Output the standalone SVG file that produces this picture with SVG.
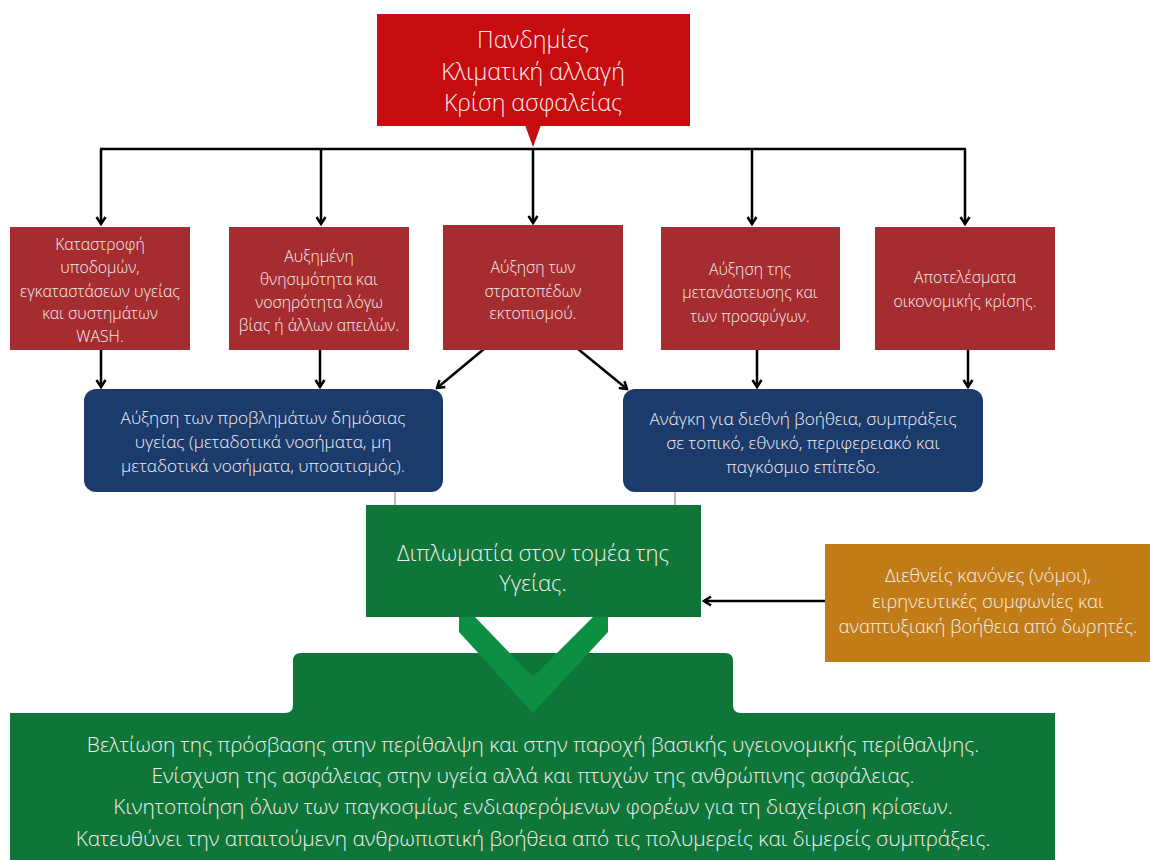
<svg xmlns="http://www.w3.org/2000/svg" width="1150" height="860" viewBox="0 0 1150 860">
<defs>
<marker id="ah" viewBox="0 0 12 12" refX="10" refY="6" markerWidth="12" markerHeight="12" markerUnits="userSpaceOnUse" orient="auto">
<polyline points="3,1.5 10,6 3,10.5" fill="none" stroke="#000" stroke-width="2.5"/>
</marker>
<style>
.t{font-family:"Open Sans","DejaVu Sans",sans-serif;fill:#f4eeee;text-anchor:middle;font-weight:300}
.s15{font-size:15.8px}
.s16{font-size:17.2px}
.s18{font-size:18.5px}
.s19{font-size:20.8px}
.s20{font-size:22px}
.s22{font-size:23.2px}
.red{fill:#a52d30}
.blue{fill:#1b3b6d}
.green{fill:#0f763a}
.conn{stroke:#000;stroke-width:2.5;fill:none}
.thin{stroke:#777;stroke-width:1;fill:none}
</style>
</defs>
<rect width="1150" height="860" fill="#fff"/>

<g id="connectors">
<line class="conn" x1="100" y1="149" x2="966" y2="149" stroke-width="3"/>
<line class="conn" x1="101" y1="149" x2="101" y2="224" marker-end="url(#ah)"/>
<line class="conn" x1="321" y1="149" x2="321" y2="224" marker-end="url(#ah)"/>
<line class="conn" x1="533" y1="149" x2="533" y2="223" marker-end="url(#ah)"/>
<line class="conn" x1="752" y1="149" x2="752" y2="224" marker-end="url(#ah)"/>
<line class="conn" x1="965" y1="149" x2="965" y2="224" marker-end="url(#ah)"/>
<line class="conn" x1="101" y1="350" x2="101" y2="387" marker-end="url(#ah)"/>
<line class="conn" x1="320" y1="350" x2="320" y2="387" marker-end="url(#ah)"/>
<line class="conn" x1="484" y1="349" x2="437" y2="388" marker-end="url(#ah)"/>
<line class="conn" x1="578" y1="349" x2="627" y2="389" marker-end="url(#ah)"/>
<line class="conn" x1="757" y1="350" x2="757" y2="387" marker-end="url(#ah)"/>
<line class="conn" x1="968" y1="350" x2="968" y2="387" marker-end="url(#ah)"/>
<line class="thin" x1="395" y1="492" x2="395" y2="505"/>
<line class="thin" x1="675" y1="492" x2="675" y2="505"/>
<line class="conn" x1="825" y1="601" x2="704" y2="601" marker-end="url(#ah)"/>
</g>

<g id="top">
<rect x="377" y="14" width="313" height="112" fill="#c60c0e"/>
<polygon points="525,125 541,125 533,147" fill="#c60c0e"/>
<text class="t s22" x="533" y="48">Πανδημίες</text>
<text class="t s22" x="533" y="80">Κλιματική αλλαγή</text>
<text class="t s22" x="533" y="111">Κρίση ασφαλείας</text>
</g>

<g id="n1">
<rect class="red" x="10" y="227" width="180" height="123"/>
<text class="t s15" x="100" y="250">Καταστροφή</text>
<text class="t s15" x="100" y="273">υποδομών,</text>
<text class="t s15" x="100" y="297">εγκαταστάσεων υγείας</text>
<text class="t s15" x="100" y="319">και συστημάτων</text>
<text class="t s15" x="100" y="342">WASH.</text>
</g>

<g id="n2">
<rect class="red" x="229" y="227" width="180" height="123"/>
<text class="t s15" x="319" y="262">Αυξημένη</text>
<text class="t s15" x="319" y="285">θνησιμότητα και</text>
<text class="t s15" x="319" y="308">νοσηρότητα λόγω</text>
<text class="t s15" x="319" y="331">βίας ή άλλων απειλών.</text>
</g>

<g id="n3">
<rect class="red" x="443" y="225" width="180" height="125"/>
<text class="t s15" x="533" y="273">Αύξηση των</text>
<text class="t s15" x="533" y="297">στρατοπέδων</text>
<text class="t s15" x="533" y="319">εκτοπισμού.</text>
</g>

<g id="n4">
<rect class="red" x="661" y="227" width="179" height="123"/>
<text class="t s15" x="750" y="275">Αύξηση της</text>
<text class="t s15" x="750" y="298">μετανάστευσης και</text>
<text class="t s15" x="750" y="322">των προσφύγων.</text>
</g>

<g id="n5">
<rect class="red" x="875" y="227" width="180" height="123"/>
<text class="t s15" x="965" y="283">Αποτελέσματα</text>
<text class="t s15" x="965" y="307">οικονομικής κρίσης.</text>
</g>

<g id="b1">
<rect class="blue" x="84" y="389" width="359" height="103" rx="12"/>
<text class="t s16" x="263" y="424">Αύξηση των προβλημάτων δημόσιας</text>
<text class="t s16" x="263" y="448">υγείας (μεταδοτικά νοσήματα, μη</text>
<text class="t s16" x="263" y="472">μεταδοτικά νοσήματα, υποσιτισμός).</text>
</g>

<g id="b2">
<rect class="blue" x="623" y="389" width="360" height="103" rx="12"/>
<text class="t s16" x="803" y="425">Ανάγκη για διεθνή βοήθεια, συμπράξεις</text>
<text class="t s16" x="803" y="449">σε τοπικό, εθνικό, περιφερειακό και</text>
<text class="t s16" x="803" y="473">παγκόσμιο επίπεδο.</text>
</g>

<g id="diplomacy">
<rect class="green" x="366" y="505" width="335" height="112"/>
<text class="t s20" x="533" y="561">Διπλωματία στον τομέα της</text>
<text class="t s20" x="533" y="591">Υγείας.</text>
</g>

<g id="rules">
<rect x="825" y="544" width="325" height="118" fill="#c17c17"/>
<text class="t s18" x="988" y="582">Διεθνείς κανόνες (νόμοι),</text>
<text class="t s18" x="988" y="608">ειρηνευτικές συμφωνίες και</text>
<text class="t s18" x="988" y="633">αναπτυξιακή βοήθεια από δωρητές.</text>
</g>

<g id="outcomes">
<path class="green" d="M10,713 H285 Q293,713 293,705 V661 Q293,653 301,653 H725 Q733,653 733,661 V705 Q733,713 741,713 H1055 V860 H10 Z"/>
<polygon points="459,617 475,617 533,677 593,617 608,617 608,632 533,713 459,632" fill="#0c8f42"/>
<text class="t s19" x="533" y="752">Βελτίωση της πρόσβασης στην περίθαλψη και στην παροχή βασικής υγειονομικής περίθαλψης.</text>
<text class="t s19" x="533" y="783">Ενίσχυση της ασφάλειας στην υγεία αλλά και πτυχών της ανθρώπινης ασφάλειας.</text>
<text class="t s19" x="533" y="814">Κινητοποίηση όλων των παγκοσμίως ενδιαφερόμενων φορέων για τη διαχείριση κρίσεων.</text>
<text class="t s19" x="533" y="846">Κατευθύνει την απαιτούμενη ανθρωπιστική βοήθεια από τις πολυμερείς και διμερείς συμπράξεις.</text>
</g>
</svg>
